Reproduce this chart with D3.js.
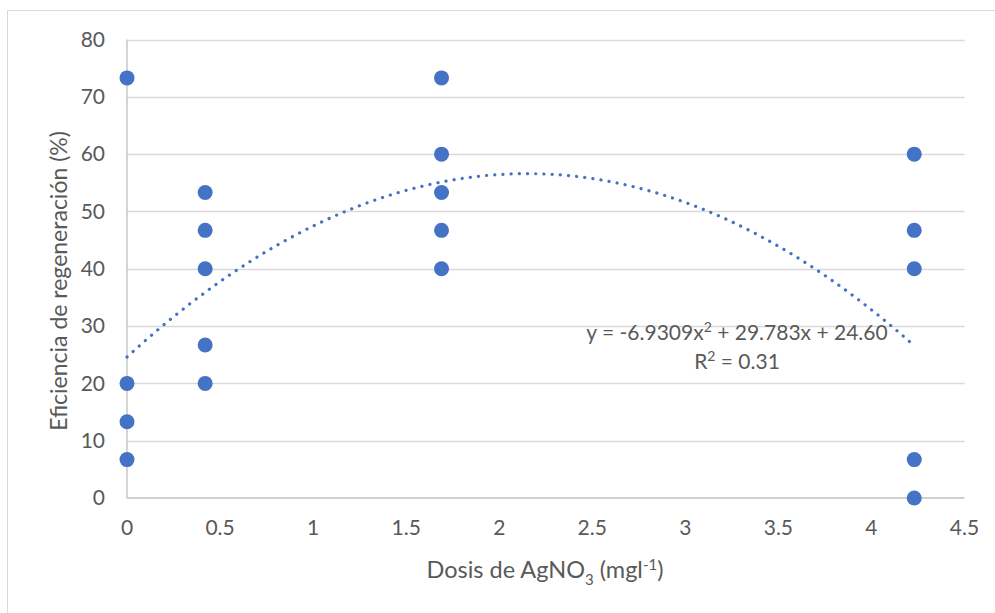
<!DOCTYPE html>
<html>
<head>
<meta charset="utf-8">
<script src="https://cdn.jsdelivr.net/npm/d3@7"></script>
<style>
  body { margin: 0; background: #fff; }
  text { font-family: Lato, "Open Sans", sans-serif; fill: #595959; }
</style>
</head>
<body>
<div id="chart"></div>
<script>
// Chart data
var dosis = [0, 0, 0, 0, 0.42, 0.42, 0.42, 0.42, 0.42, 1.69, 1.69, 1.69, 1.69, 1.69, 4.23, 4.23, 4.23, 4.23, 4.23];
var eficiencia = [73.3, 20, 13.3, 6.7, 53.3, 46.7, 40, 26.7, 20, 73.3, 60, 53.3, 46.7, 40, 60, 46.7, 40, 6.7, 0];
var xTicks = [0, 0.5, 1, 1.5, 2, 2.5, 3, 3.5, 4, 4.5];
var yTicks = [0, 10, 20, 30, 40, 50, 60, 70, 80];
// trendline coefficients as printed on the chart
var trendCoef = [24.60, 29.783, -6.9309];
var trendRange = [0, 4.23];

var W = 995, H = 613;
var margin = {top: 39.5, right: 30.5, bottom: 115, left: 127};

var svg = d3.select("#chart").append("svg")
  .attr("width", W)
  .attr("height", H);

// outer chart border (only left/top visible in the crop)
svg.append("rect")
  .attr("x", 7.5).attr("y", 10.5)
  .attr("width", W).attr("height", H)
  .attr("fill", "none")
  .attr("stroke", "#d9d9d9");

var x = d3.scaleLinear().domain([0, 4.5]).range([margin.left, W - margin.right]);
var y = d3.scaleLinear().domain([0, 80]).range([H - margin.bottom, margin.top]);

// gridlines
svg.append("g").selectAll("line")
  .data(yTicks.filter(function(d) { return d > 0; }))
  .enter().append("line")
  .attr("x1", x(0)).attr("x2", x(4.5))
  .attr("y1", function(d) { return Math.round(y(d)) + 0.5; })
  .attr("y2", function(d) { return Math.round(y(d)) + 0.5; })
  .attr("stroke", "#d9d9d9")
  .attr("stroke-width", 1.3);

// axis lines
svg.append("line")
  .attr("x1", x(0)).attr("x2", x(4.5))
  .attr("y1", y(0)).attr("y2", y(0))
  .attr("stroke", "#bfbfbf").attr("stroke-width", 1.3);
svg.append("line")
  .attr("x1", x(0)).attr("x2", x(0))
  .attr("y1", y(0)).attr("y2", y(80))
  .attr("stroke", "#bfbfbf").attr("stroke-width", 1.3);

// tick labels
svg.append("g").selectAll("text")
  .data(xTicks)
  .enter().append("text")
  .attr("x", function(d) { return x(d); })
  .attr("y", y(0) + 37)
  .attr("text-anchor", "middle")
  .style("font-size", "21px")
  .text(function(d) { return d; });

svg.append("g").selectAll("text")
  .data(yTicks)
  .enter().append("text")
  .attr("x", x(0) - 22)
  .attr("y", function(d) { return y(d); })
  .attr("dy", "0.35em")
  .attr("text-anchor", "end")
  .style("font-size", "21px")
  .text(function(d) { return d; });

// trendline
var trendPts = d3.range(0, 101).map(function(i) {
  var t = trendRange[0] + (trendRange[1] - trendRange[0]) * i / 100;
  return [t, trendCoef[0] + trendCoef[1] * t + trendCoef[2] * t * t];
});
svg.append("path")
  .datum(trendPts)
  .attr("d", d3.line().x(function(d) { return x(d[0]); }).y(function(d) { return y(d[1]); }))
  .attr("fill", "none")
  .attr("stroke", "#4472c4")
  .attr("stroke-width", 3.2)
  .attr("stroke-linecap", "round")
  .attr("stroke-dasharray", "0.1 8.1");

// points
svg.append("g").selectAll("circle")
  .data(dosis)
  .enter().append("circle")
  .attr("cx", function(d) { return x(d); })
  .attr("cy", function(d, i) { return y(eficiencia[i]); })
  .attr("r", 7.5)
  .attr("fill", "#4472c4");

// equation label
var eq = svg.append("text")
  .attr("x", 737).attr("y", 340)
  .attr("text-anchor", "middle")
  .style("font-size", "21px");
eq.append("tspan").text("y = -6.9309x");
eq.append("tspan").attr("dy", -8).style("font-size", "14px").text("2");
eq.append("tspan").attr("dy", 8).text(" + 29.783x + 24.60");

var r2 = svg.append("text")
  .attr("x", 737).attr("y", 369)
  .attr("text-anchor", "middle")
  .style("font-size", "21px");
r2.append("tspan").text("R");
r2.append("tspan").attr("dy", -8).style("font-size", "14px").text("2");
r2.append("tspan").attr("dy", 8).text(" = 0.31");

// axis titles
var xt = svg.append("text")
  .attr("x", 545).attr("y", 578)
  .attr("text-anchor", "middle")
  .style("font-size", "23.5px");
xt.append("tspan").text("Dosis de AgNO");
xt.append("tspan").attr("dy", 7).style("font-size", "15px").text("3");
xt.append("tspan").attr("dy", -7).text(" (mgl");
xt.append("tspan").attr("dy", -8).style("font-size", "15px").text("-1");
xt.append("tspan").attr("dy", 8).text(")");

svg.append("text")
  .attr("transform", "translate(67," + 281 + ") rotate(-90)")
  .attr("text-anchor", "middle")
  .style("font-size", "23px")
  .text("Eficiencia de regeneración (%)");
</script>
</body>
</html>
